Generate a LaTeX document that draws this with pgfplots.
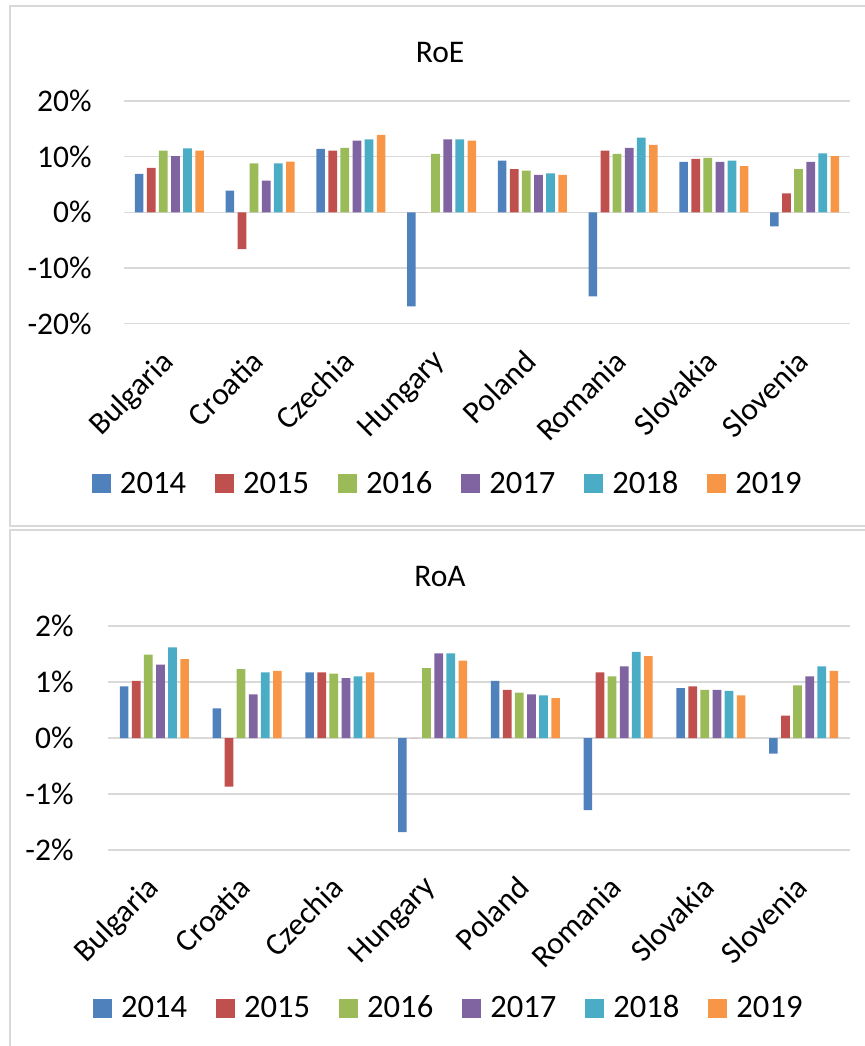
\documentclass[border=0pt]{standalone}
\usepackage{fontspec}
\setmainfont{Carlito}
\usepackage{pgfplots}
\usepackage{pgfplotstable}
\pgfplotsset{compat=1.18}
\definecolor{c14}{HTML}{4F81BD}
\definecolor{c15}{HTML}{C0504D}
\definecolor{c16}{HTML}{9BBB59}
\definecolor{c17}{HTML}{8064A2}
\definecolor{c18}{HTML}{4BACC6}
\definecolor{c19}{HTML}{F79646}
\definecolor{gridc}{HTML}{D9D9D9}

\pgfplotstableread{
x y14 y15 y16 y17 y18 y19
0 6.9 8.0 11.1 10.1 11.5 11.1
1 3.9 -6.6 8.8 5.7 8.8 9.1
2 11.4 11.1 11.6 12.9 13.1 13.9
3 -16.9 0 10.5 13.1 13.1 12.9
4 9.3 7.75 7.5 6.75 7.0 6.75
5 -15.1 11.1 10.5 11.6 13.4 12.1
6 9.05 9.6 9.8 9.05 9.3 8.3
7 -2.5 3.4 7.75 9.05 10.6 10.1
}\roe

\pgfplotstableread{
x y14 y15 y16 y17 y18 y19
0 0.92 1.02 1.49 1.31 1.62 1.41
1 0.53 -0.87 1.23 0.78 1.17 1.20
2 1.17 1.17 1.15 1.07 1.10 1.17
3 -1.68 0 1.25 1.51 1.51 1.38
4 1.02 0.86 0.81 0.78 0.76 0.71
5 -1.29 1.17 1.10 1.28 1.54 1.46
6 0.89 0.92 0.86 0.86 0.84 0.76
7 -0.28 0.40 0.94 1.10 1.28 1.20
}\roa

\pgfplotsset{
  mybars/.style={
    scale only axis,
    ybar=1.7pt,
    bar width=4.35pt,
    xmin=-0.5, xmax=7.5,
    xtick={0,...,7},
    xticklabels={Bulgaria,Croatia,Czechia,Hungary,Poland,Romania,Slovakia,Slovenia},
    ymajorgrids,
    major grid style={draw=gridc, line width=0.8pt},
    axis line style={draw=none},
    major tick length=0pt,
    tick label style={font=\fontsize{15.75pt}{18pt}\selectfont},
    yticklabel style={anchor=east, inner sep=0pt},
    xticklabel style={xshift=-5pt, yshift=-12pt, rotate=45, anchor=north east, inner sep=0pt},
    legend columns=6,
    legend style={draw=none, fill=none, inner sep=0pt, outer sep=0pt,
      font=\fontsize{16.3pt}{19pt}\selectfont,
      nodes={inner sep=0pt},
      /tikz/every even column/.append style={column sep=14.5pt},
      /tikz/every odd column/.append style={column sep=4.5pt}},
    legend image code/.code={\fill[##1] (0pt,-4.75pt) rectangle (9.5pt,4.75pt);},
    every axis plot/.append style={draw=none},
  }
}

\begin{document}
\begin{tikzpicture}
% frames
\draw[gridc, line width=0.9pt] (5pt,520.15pt) rectangle (440pt,260pt);
\draw[gridc, line width=0.9pt] (5pt,258pt) rectangle (440pt,-10pt);
% titles
\node[font=\fontsize{15.75pt}{18pt}\selectfont] at (220pt,496.5pt) {RoE};
\node[font=\fontsize{15.75pt}{18pt}\selectfont] at (220pt,234.5pt) {RoA};

\begin{axis}[mybars,
  at={(62pt,361.15pt)}, anchor=south west,
  width=363pt, height=111.35pt,
  ymin=-20, ymax=20,
  ytick={-20,-10,0,10,20},
  yticklabels={-20\%,-10\%,0\%,10\%,20\%},
  yticklabel style={xshift=-16pt},
  legend style={at={(-0.0441,-0.7198)}, anchor=west},
]
\addplot[fill=c14] table[x=x,y=y14]{\roe};
\addplot[fill=c15] table[x=x,y=y15]{\roe};
\addplot[fill=c16] table[x=x,y=y16]{\roe};
\addplot[fill=c17] table[x=x,y=y17]{\roe};
\addplot[fill=c18] table[x=x,y=y18]{\roe};
\addplot[fill=c19] table[x=x,y=y19]{\roe};
\legend{2014,2015,2016,2017,2018,2019}
\end{axis}

\begin{axis}[mybars,
  at={(54pt,98pt)}, anchor=south west,
  width=371pt, height=112pt,
  ymin=-2, ymax=2,
  ytick={-2,-1,0,1,2},
  yticklabels={-2\%,-1\%,0\%,1\%,2\%},
  yticklabel style={xshift=-17pt},
  legend style={at={(-0.0202,-0.7054)}, anchor=west},
]
\addplot[fill=c14] table[x=x,y=y14]{\roa};
\addplot[fill=c15] table[x=x,y=y15]{\roa};
\addplot[fill=c16] table[x=x,y=y16]{\roa};
\addplot[fill=c17] table[x=x,y=y17]{\roa};
\addplot[fill=c18] table[x=x,y=y18]{\roa};
\addplot[fill=c19] table[x=x,y=y19]{\roa};
\legend{2014,2015,2016,2017,2018,2019}
\end{axis}

\pgfresetboundingbox
\useasboundingbox (0pt,0pt) rectangle (432pt,523pt);
\end{tikzpicture}
\end{document}
